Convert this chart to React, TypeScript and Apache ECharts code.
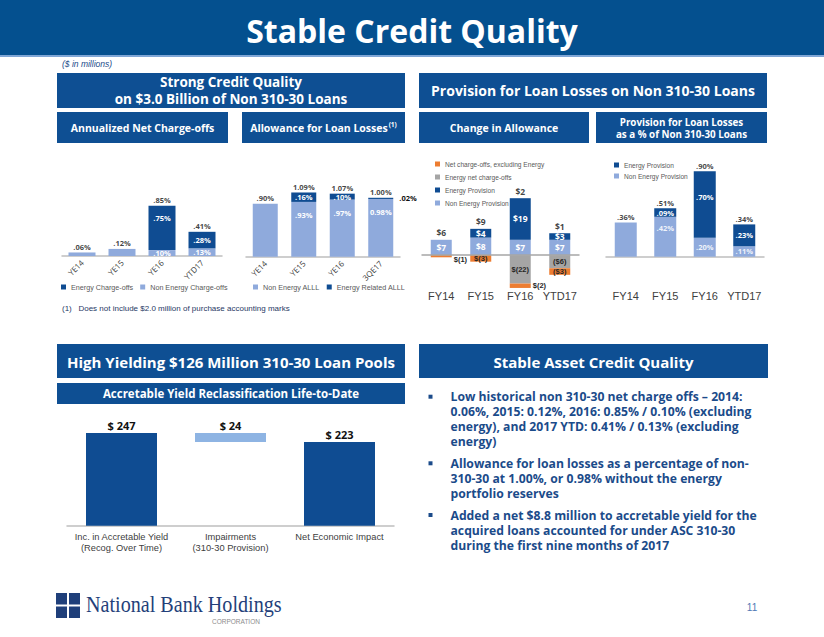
import React, { useEffect, useRef } from 'react';
import * as echarts from 'echarts';

// ---------- data ----------
const chargeCats = ['YE14', 'YE15', 'YE16', 'YTD17'];
const nonEnergyChargeOffs = [0.06, 0.12, 0.10, 0.13];
const energyChargeOffs = [0, 0, 0.75, 0.28];
const totalChargeOffs = [0.06, 0.12, 0.85, 0.41];

const alllCats = ['YE14', 'YE15', 'YE16', '3QE17'];
const nonEnergyAlll = [0.90, 0.93, 0.97, 0.98];
const energyAlll = [0, 0.16, 0.10, 0.02];
const totalAlll = [0.90, 1.09, 1.07, 1.00];
const nonEnergyAlllLabels = ['', '.93%', '.97%', '0.98%'];

const fyCats = ['FY14', 'FY15', 'FY16', 'YTD17'];
const nonEnergyProvision = [7, 8, 7, 7];
const energyProvision = [0, 4, 19, 3];
const energyNetChargeOffs = [0, 0, -22, -6];
const netChargeOffsExEnergy = [-1, -3, -2, -3];
const netChangeInAllowance = [6, 9, 2, 1];
const energyNcoLabels = ['', '', '$(22)', '($6)'];
const ncoExEnergyLabels = ['$(1)', '$(3)', '$(2)', '($3)'];

const provPctNonEnergy = [0.36, 0.42, 0.20, 0.11];
const provPctEnergy = [0, 0.09, 0.70, 0.23];
const provPctTotal = [0.36, 0.51, 0.90, 0.34];

const yieldCats = ['Inc. in Accretable Yield\n(Recog. Over Time)', 'Impairments\n(310-30 Provision)', 'Net Economic Impact'];
const yieldValues = [247, 24, 223];

const bulletLines = [
  ['Low historical non 310-30 net charge offs \u2013 2014:', '0.06%, 2015: 0.12%, 2016: 0.85% / 0.10% (excluding', 'energy), and 2017 YTD: 0.41% / 0.13% (excluding', 'energy)'],
  ['Allowance for loan losses as a percentage of non-', '310-30 at 1.00%, or 0.98% without the energy', 'portfolio reserves'],
  ['Added a net $8.8 million to accretable yield for the', 'acquired loans accounted for under ASC 310-30', 'during the first nine months of 2017'],
];

// ---------- styles ----------
const FONT = '"Open Sans", sans-serif';
const ARIAL = '"Liberation Sans", Arial, sans-serif';
const DARK = '#0F4C92';
const LIGHT = '#8FAADC';
const GRAY = '#A5A5A5';
const ORANGE = '#ED7D31';
const BOX = '#0E4F93';
const NAVY = '#1B4B8A';

const pct = (v: number) => (v < 1 ? v.toFixed(2).replace(/^0/, '') : v.toFixed(2)) + '%';

const txt = (x: number, y: number, text: string, size: number, o: any = {}) => ({
  type: 'text',
  x,
  y,
  silent: true,
  z: 10,
  scaleX: o.scaleX ?? 1,
  style: {
    text,
    fill: o.color ?? '#fff',
    font: `${o.italic ? 'italic ' : ''}${o.weight ?? 'bold'} ${size}px ${o.family ?? FONT}`,
    lineHeight: Math.round(size * 1.12),
    textAlign: o.align ?? 'center',
    textVerticalAlign: 'middle',
    align: o.align ?? 'center',
    verticalAlign: 'middle',
  },
});

const box = (x: number, y: number, w: number, h: number, fill = BOX) => ({
  type: 'rect',
  silent: true,
  shape: { x, y, width: w, height: h },
  style: { fill },
});

const smallLabel = { fontSize: 7.5, fontWeight: 'bold', fontFamily: FONT };
const negLabel = { fontSize: 7.5, fontWeight: 'bold', fontFamily: ARIAL };

export default function App() {
  const ref = useRef<HTMLDivElement>(null);

  useEffect(() => {
    document.body.style.margin = '0';
    if (!ref.current) return;
    const chart = echarts.init(ref.current, undefined, { renderer: 'svg' });

    const totalScatter = (xi: number, data: number[], fmt: (p: any) => string, extra: any = {}) => ({
      type: 'scatter',
      xAxisIndex: xi,
      yAxisIndex: xi,
      data,
      symbolSize: 1,
      silent: true,
      itemStyle: { color: 'rgba(0,0,0,0)' },
      label: { show: true, position: 'top', distance: 1, color: '#111', ...smallLabel, ...extra, formatter: fmt },
      z: 5,
    });

    const legendText = { fontSize: 7.2, color: '#595959', fontFamily: ARIAL };
    const legendTextSmall = { fontSize: 6.6, color: '#595959', fontFamily: ARIAL, lineHeight: 9 };
    const fyLabel = { fontSize: 11, color: '#404040', fontFamily: ARIAL, interval: 0 };

    const graphics: any[] = [
      box(0, 0, 824, 55, '#04508F'),
      box(0, 55, 824, 2, '#7FA6D6'),
      txt(412, 30, 'Stable Credit Quality', 32),
      txt(62, 64, '($ in millions)', 8.5, { align: 'left', italic: true, weight: 'normal', color: NAVY, family: ARIAL }),
      box(57, 73, 348, 35),
      txt(231, 81.5, 'Strong Credit Quality', 13.5),
      txt(231, 99, 'on $3.0 Billion of Non 310-30 Loans', 13.5),
      box(419, 73, 348, 35),
      txt(593, 90.5, 'Provision for Loan Losses on Non 310-30 Loans', 14),
      box(57, 112, 171, 31),
      txt(142.5, 127.5, 'Annualized Net Charge-offs', 10.5),
      box(242, 112, 163, 31),
      {
        type: 'text', x: 323.5, y: 127.5, silent: true, z: 10,
        style: {
          text: 'Allowance for Loan Losses{s|(1)}',
          fill: '#fff', fontSize: 10.5, fontWeight: 'bold', fontFamily: FONT,
          textAlign: 'center', textVerticalAlign: 'middle', align: 'center', verticalAlign: 'middle',
          rich: { s: { fontSize: 6.5, fontWeight: 'bold', fontFamily: FONT, fill: '#fff', verticalAlign: 'top', padding: [0, 0, 6, 1] } },
        },
      },
      box(419, 112, 170, 31),
      txt(504, 127.5, 'Change in Allowance', 10.5),
      box(596, 112, 171, 31),
      txt(681.5, 122, 'Provision for Loan Losses', 9.8),
      txt(681.5, 134.5, 'as a % of Non 310-30 Loans', 9.8),
      txt(62, 308, '(1)   Does not include $2.0 million of purchase accounting marks', 8, { align: 'left', weight: 'normal', color: '#1F3864', family: ARIAL }),
      box(57, 344, 348, 34),
      txt(231, 361.5, 'High Yielding $126 Million 310-30 Loan Pools', 15),
      box(57, 383, 348, 21),
      txt(231, 393.5, 'Accretable Yield Reclassification Life-to-Date', 11.5),
      box(419, 344, 349, 34),
      txt(593.5, 361.5, 'Stable Asset Credit Quality', 15),
      // logo
      box(56, 593, 11, 11.5, '#1F3F7A'),
      box(69, 593, 11, 11.5, '#1F3F7A'),
      box(56, 606.5, 11, 11.5, '#1F3F7A'),
      box(69, 606.5, 11, 11.5, '#1F3F7A'),
      txt(86, 605, 'National Bank Holdings', 23, { align: 'left', weight: 'normal', color: '#243F7A', family: '"Liberation Serif", "Times New Roman", serif', scaleX: 0.875 }),
      txt(212, 621, 'CORPORATION', 6.5, { align: 'left', weight: 'normal', color: '#8C8C8C', family: ARIAL }),
      txt(752, 607, '11', 10, { weight: 'normal', color: '#4F79B5', family: ARIAL }),
    ];

    const bulletStarts = [396.7, 463.3, 515];
    bulletLines.forEach((lines, bi) => {
      graphics.push(box(428.5, bulletStarts[bi] - 2, 4, 4, NAVY));
      lines.forEach((line, li) => {
        graphics.push(txt(450.5, bulletStarts[bi] + li * 15, line, 12.2, { align: 'left', color: NAVY }));
      });
    });

    const yieldBase = [0, yieldValues[0] - yieldValues[1], 0];

    const option: any = {
      animation: false,
      textStyle: { fontFamily: FONT },
      grid: [
        { left: 62, top: 197, width: 160, height: 59 },
        { left: 246, top: 186, width: 154, height: 70.7 },
        { left: 421.5, top: 198.2, width: 158, height: 89.75 },
        { left: 606, top: 161.7, width: 158, height: 95 },
        { left: 67, top: 432, width: 327, height: 93.7 },
      ],
      xAxis: [
        { gridIndex: 0, type: 'category', data: chargeCats, axisTick: { show: false }, axisLine: { lineStyle: { color: '#BFBFBF', width: 1.5 } }, axisLabel: { rotate: 45, fontSize: 8, color: '#404040', margin: 5, interval: 0 } },
        { gridIndex: 1, type: 'category', data: alllCats, axisTick: { show: false }, axisLine: { lineStyle: { color: '#BFBFBF', width: 1.5 } }, axisLabel: { rotate: 45, fontSize: 8, color: '#404040', margin: 5, interval: 0 } },
        { gridIndex: 2, type: 'category', data: fyCats, position: 'bottom', axisTick: { show: false }, axisLine: { show: false, onZero: false }, axisLabel: { ...fyLabel, margin: 3 } },
        { gridIndex: 3, type: 'category', data: fyCats, axisTick: { show: false }, axisLine: { lineStyle: { color: '#BFBFBF', width: 1.5 } }, axisLabel: { ...fyLabel, margin: 34 } },
        { gridIndex: 4, type: 'category', data: yieldCats, axisTick: { show: false }, axisLine: { lineStyle: { color: '#BFBFBF', width: 1.5 } }, axisLabel: { fontSize: 9.3, lineHeight: 11, color: '#404040', fontFamily: ARIAL, margin: 6, interval: 0 } },
      ],
      yAxis: [
        { gridIndex: 0, type: 'value', min: 0, max: 1, show: false },
        { gridIndex: 1, type: 'value', min: 0, max: 1.2, show: false },
        {
          gridIndex: 2, type: 'value', min: -24, max: 26, show: false,
          breaks: [{ start: -21, end: -10, gap: 2 }],
          breakArea: { show: false, itemStyle: { opacity: 0, borderWidth: 0 }, expandOnClick: false },
        },
        { gridIndex: 3, type: 'value', min: 0, max: 1, show: false },
        { gridIndex: 4, type: 'value', min: 0, max: 250, show: false },
      ],
      legend: [
        { data: ['Energy Charge-offs', 'Non Energy Charge-offs'], left: 61, top: 283.5, padding: 0, itemWidth: 5, itemHeight: 5, itemGap: 7, icon: 'rect', selectedMode: false, textStyle: legendText },
        { data: ['Non Energy ALLL', 'Energy Related ALLL'], left: 253, top: 283.5, padding: 0, itemWidth: 5, itemHeight: 5, itemGap: 7, icon: 'rect', selectedMode: false, textStyle: legendText },
        { data: ['Net charge-offs, excluding Energy', 'Energy net charge-offs', 'Energy Provision', 'Non Energy Provision'], orient: 'vertical', left: 435, top: 159.5, padding: 0, itemWidth: 5, itemHeight: 5, itemGap: 4, itemTextGap: 3, icon: 'rect', selectedMode: false, textStyle: legendTextSmall },
        { data: ['Energy Provision', 'Non Energy Provision'], orient: 'vertical', left: 614, top: 160.5, padding: 0, itemWidth: 5, itemHeight: 5, itemGap: 2, itemTextGap: 3, icon: 'rect', selectedMode: false, textStyle: legendTextSmall },
      ],
      series: [
        // chart 1
        {
          name: 'Non Energy Charge-offs', type: 'bar', xAxisIndex: 0, yAxisIndex: 0, stack: 'c1', barWidth: 27,
          itemStyle: { color: LIGHT },
          data: nonEnergyChargeOffs.map((v, i) => ({ value: v, label: { show: energyChargeOffs[i] > 0 } })),
          label: { position: 'inside', color: '#fff', ...smallLabel, formatter: (p: any) => pct(p.value) },
        },
        {
          name: 'Energy Charge-offs', type: 'bar', xAxisIndex: 0, yAxisIndex: 0, stack: 'c1', barWidth: 27,
          itemStyle: { color: DARK },
          data: energyChargeOffs.map((v) => ({ value: v, label: { show: v > 0, position: v >= 0.5 ? 'insideTop' : 'inside', distance: 8 } })),
          label: { color: '#fff', ...smallLabel, formatter: (p: any) => pct(p.value) },
        },
        totalScatter(0, totalChargeOffs, (p: any) => pct(p.value)),
        // chart 2
        {
          name: 'Non Energy ALLL', type: 'bar', xAxisIndex: 1, yAxisIndex: 1, stack: 'c2', barWidth: 25,
          itemStyle: { color: LIGHT },
          data: nonEnergyAlll.map((v, i) => ({ value: v, label: { show: nonEnergyAlllLabels[i] !== '' } })),
          label: { position: 'insideTop', distance: 9, color: '#fff', ...smallLabel, formatter: (p: any) => nonEnergyAlllLabels[p.dataIndex] },
        },
        {
          name: 'Energy Related ALLL', type: 'bar', xAxisIndex: 1, yAxisIndex: 1, stack: 'c2', barWidth: 25,
          itemStyle: { color: DARK },
          data: energyAlll.map((v) => ({
            value: v,
            label: v <= 0 ? { show: false } : v < 0.05 ? { show: true, position: 'right', distance: 6, color: '#111' } : { show: true, position: 'inside', color: '#fff' },
          })),
          label: { ...smallLabel, formatter: (p: any) => pct(p.value) },
        },
        totalScatter(1, totalAlll, (p: any) => pct(p.value)),
        // chart 3
        {
          name: 'Non Energy Provision', type: 'bar', xAxisIndex: 2, yAxisIndex: 2, stack: 'c3', barWidth: 21,
          itemStyle: { color: LIGHT },
          data: nonEnergyProvision,
          label: { show: true, position: 'inside', color: '#fff', ...smallLabel, fontSize: 8.5, formatter: (p: any) => '$' + p.value },
          markLine: { silent: true, symbol: 'none', label: { show: false }, lineStyle: { color: '#A6A6A6', type: 'solid', width: 1.5 }, data: [{ yAxis: 0 }] },
        },
        {
          name: 'Energy Provision', type: 'bar', xAxisIndex: 2, yAxisIndex: 2, stack: 'c3', barWidth: 21,
          itemStyle: { color: DARK },
          data: energyProvision.map((v) => ({ value: v, label: { show: v > 0 } })),
          label: { position: 'inside', color: '#fff', ...smallLabel, fontSize: 8.5, formatter: (p: any) => '$' + p.value },
        },
        {
          name: 'Energy net charge-offs', type: 'bar', xAxisIndex: 2, yAxisIndex: 2, stack: 'c3', barWidth: 21,
          itemStyle: { color: GRAY },
          data: energyNetChargeOffs.map((v, i) => ({ value: v, label: { show: energyNcoLabels[i] !== '' } })),
          label: { position: 'inside', color: '#262626', ...negLabel, formatter: (p: any) => energyNcoLabels[p.dataIndex] },
        },
        {
          name: 'Net charge-offs, excluding Energy', type: 'bar', xAxisIndex: 2, yAxisIndex: 2, stack: 'c3', barWidth: 21,
          itemStyle: { color: ORANGE },
          data: netChargeOffsExEnergy.map((v, i) => ({
            value: v,
            label: Math.abs(v) >= 3 ? { position: 'inside' } : { position: 'right', distance: 2, offset: [0, i === 0 ? 3 : 0] },
          })),
          label: { show: true, color: '#262626', ...negLabel, formatter: (p: any) => ncoExEnergyLabels[p.dataIndex] },
        },
        totalScatter(2, nonEnergyProvision.map((v, i) => v + energyProvision[i]), (p: any) => '$' + netChangeInAllowance[p.dataIndex], { fontSize: 8.5, distance: 2 }),
        // chart 4
        {
          name: 'Non Energy Provision', type: 'bar', xAxisIndex: 3, yAxisIndex: 3, stack: 'c4', barWidth: 22,
          itemStyle: { color: LIGHT },
          data: provPctNonEnergy.map((v, i) => ({ value: v, label: { show: provPctEnergy[i] > 0, position: v >= 0.3 ? 'insideTop' : 'inside', distance: 7 } })),
          label: { color: '#EEF2FA', ...smallLabel, formatter: (p: any) => pct(p.value) },
        },
        {
          name: 'Energy Provision', type: 'bar', xAxisIndex: 3, yAxisIndex: 3, stack: 'c4', barWidth: 22,
          itemStyle: { color: DARK },
          data: provPctEnergy.map((v) => ({ value: v, label: { show: v > 0, position: v >= 0.5 ? 'insideTop' : 'inside', distance: 22 } })),
          label: { color: '#fff', ...smallLabel, formatter: (p: any) => pct(p.value) },
        },
        totalScatter(3, provPctTotal, (p: any) => pct(p.value)),
        // chart 5
        {
          type: 'bar', xAxisIndex: 4, yAxisIndex: 4, stack: 'w', barWidth: 71, silent: true,
          itemStyle: { color: 'rgba(0,0,0,0)' },
          data: yieldBase,
        },
        {
          type: 'bar', xAxisIndex: 4, yAxisIndex: 4, stack: 'w', barWidth: 71,
          data: yieldValues.map((v, i) => ({ value: v, itemStyle: { color: i === 1 ? '#8EB4E3' : DARK } })),
          label: { show: true, position: 'top', distance: 2, color: '#111', fontSize: 11, fontWeight: 'bold', fontFamily: FONT, formatter: (p: any) => '$ ' + p.value },
        },
      ],
      graphic: { elements: graphics },
    };

    chart.setOption(option);
    return () => chart.dispose();
  }, []);

  return <div ref={ref} style={{ width: 824, height: 637, background: '#fff' }} />;
}
